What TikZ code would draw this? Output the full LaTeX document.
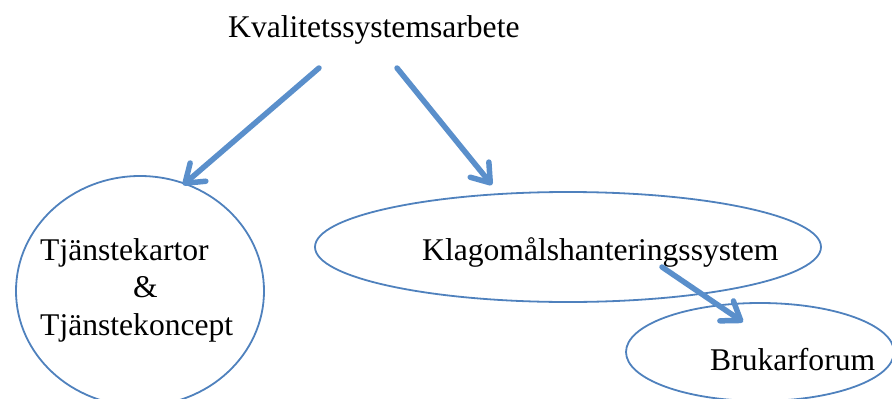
\documentclass[tikz,border=0pt]{standalone}
\usepackage{fontspec}
\setmainfont{Liberation Serif}
\usetikzlibrary{arrows.meta,shapes.geometric}
\definecolor{edgeblue}{HTML}{4F81BD}
\definecolor{arrowblue}{HTML}{5A8FCB}
\tikzset{
  shapeline/.style={draw=edgeblue, line width=1.8pt, ellipse, inner sep=0pt},
  lbl/.style={inner sep=0pt, anchor=base west, font=\fontsize{31.6}{36}\selectfont},
  bigarrow/.style={draw=arrowblue, line width=5.5pt, line cap=round,
    -{Straight Barb[length=17pt,width=24pt,line cap=round,line join=round]}},
}
\begin{document}
\begin{tikzpicture}[x=1pt,y=-1pt]
\useasboundingbox (0,0) rectangle (892,399);
% shapes
\node[shapeline, minimum width=248pt, minimum height=230pt] (circ) at (140,291) {};
\node[shapeline, minimum width=506pt, minimum height=110pt] (klag) at (568,247) {};
\node[shapeline, minimum width=268pt, minimum height=98pt] (bruk) at (760,352) {};
% texts
\node[lbl] (title) at (228,37) {Kvalitetssystemsarbete};
\node[lbl] (t1) at (40,260) {Tjänstekartor};
\node[lbl] (amp) at (133,297) {\&};
\node[lbl] (t2) at (40,335) {Tjänstekoncept};
\node[lbl] (ktext) at (422,260) {Klagomålshanteringssystem};
\node[lbl] (btext) at (710,370) {Brukarforum};
% arrow end points
\coordinate (a1s) at (319,68);
\coordinate (a1e) at (183,185);
\coordinate (a2s) at (397,68);
\coordinate (a2e) at (492,185);
\coordinate (a3s) at (662,267);
\coordinate (a3e) at (743,322);
\draw[bigarrow] (a1s) -- (a1e);
\draw[bigarrow] (a2s) -- (a2e);
\draw[bigarrow] (a3s) -- (a3e);
\end{tikzpicture}
\end{document}
